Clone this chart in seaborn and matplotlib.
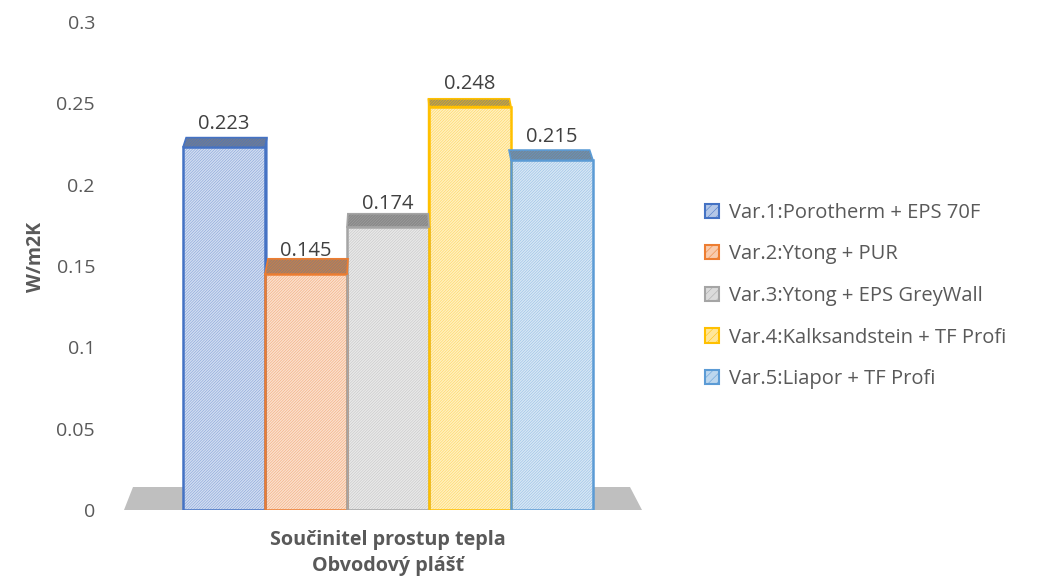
import matplotlib
matplotlib.use("Agg")
import matplotlib.pyplot as plt
import matplotlib.colors as mcolors
from matplotlib.patches import Patch
import seaborn as sns
import numpy as np

# data
variants = ["Var.1:Porotherm + EPS 70F", "Var.2:Ytong + PUR", "Var.3:Ytong + EPS GreyWall",
            "Var.4:Kalksandstein + TF Profi", "Var.5:Liapor + TF Profi"]
values = [0.223, 0.145, 0.174, 0.248, 0.215]
colors = ["#4472C4", "#ED7D31", "#A5A5A5", "#FFC000", "#5B9BD5"]
yticks = [0, 0.05, 0.1, 0.15, 0.2, 0.25, 0.3]
ytick_labels = ["0", "0.05", "0.1", "0.15", "0.2", "0.25", "0.3"]
xlabel = "Součinitel prostup tepla\nObvodový plášť"
ylabel = "W/m2K"

sns.set_style("white")
plt.rcParams["font.family"] = ["Open Sans", "DejaVu Sans"]
plt.rcParams["hatch.linewidth"] = 0.35
txt = "#595959"


def tint(c, f):
    r = np.array(mcolors.to_rgb(c))
    return tuple(r * (1 - f) + f)


def topcol(c):
    r = np.array(mcolors.to_rgb(c))
    return tuple(r * 0.25 + 0.5 * 0.75)


fig = plt.figure(figsize=(10.39, 5.78), dpi=100)
# pixel layout of the reference plot area
ax = fig.add_axes([120 / 1039, 68 / 578, 525 / 1039, 488 / 578])

pxu = 82.0                      # pixels per bar
x0 = -0.5 - (183 - 120) / pxu
yu = 0.3 / 488                  # data per pixel vertically

sns.barplot(x=variants, y=values, hue=variants, palette=colors, width=1.0,
            legend=False, ax=ax, zorder=3, saturation=1)
ax.set_xlim(x0, x0 + 525 / pxu)
ax.set_ylim(0, 0.3)

k = -0.016
for p, c in zip(ax.patches, colors):
    xl, w, h = p.get_x(), p.get_width(), p.get_height()
    xr = xl + w
    p.set_facecolor(tint(c, 0.76))
    p.set_edgecolor(tint(c, 0.3))
    p.set_hatch("/" * 12)
    p.set_linewidth(0)
    # outline of the front face
    ax.fill([xl, xr, xr, xl], [0, 0, h, h], facecolor="none", edgecolor=c, lw=1.8, zorder=3.5)
    # perspective: lower bars show a deeper top face
    dy = (3 + 0.045 * (510 - h / yu)) * yu
    sl, sr = k * (xl - 2) * dy / (10 * yu), k * (xr - 2) * dy / (10 * yu)
    ax.fill([xl, xr, xr + sr, xl + sl], [h, h, h + dy, h + dy],
            facecolor=topcol(c), edgecolor=c, lw=1.2, hatch="/" * 12, zorder=4)
    if xr < 2.01 and sr > 0:
        ax.fill([xr, xr + sr, xr + sr, xr], [0, dy, h + dy, h],
                facecolor=topcol(c), edgecolor=c, lw=1.0, zorder=2)
    if xl > 1.99 and sl < 0:
        ax.fill([xl, xl + sl, xl + sl, xl], [0, dy, h + dy, h],
                facecolor=topcol(c), edgecolor=c, lw=1.0, zorder=2)
    ax.annotate(f"{h:.3f}", (xl + w / 2, h), xytext=(0, 16.5), textcoords="offset points",
                ha="center", va="center", fontsize=14.5, color="#404040", zorder=6)

# grey floor
fx = [(v - 183) / pxu - 0.5 for v in (124, 642, 630, 133)]
fy = [0, 0, 23 * yu, 23 * yu]
ax.fill(fx, fy, color="#BFBFBF", zorder=1, clip_on=False, lw=0)

ax.set_yticks(yticks)
ax.set_yticklabels(ytick_labels)
ax.set_xticks([])
ax.tick_params(axis="y", length=0, pad=18, labelsize=14, labelcolor=txt)
for s in ax.spines.values():
    s.set_visible(False)

ax.set_xlabel(xlabel, fontsize=14.2, fontweight="bold", color=txt, linespacing=1.45)
ax.xaxis.set_label_coords((388 - 120) / 525, -0.04)
ax.xaxis.label.set_va("top")
ax.set_ylabel(ylabel, fontsize=14, fontweight="bold", color=txt)
ax.yaxis.set_label_coords(-(120 - 46) / 525, (510 - 257) / 488)

handles = [Patch(facecolor=tint(c, 0.6), edgecolor=c, hatch="/" * 4, lw=1.5) for c in colors]
fig.legend(handles, variants, loc="center left", bbox_to_anchor=(697 / 1039, 1 - 296 / 578),
           frameon=False, fontsize=14.5, labelcolor=txt, handlelength=0.7, handleheight=0.7,
           handletextpad=0.5, labelspacing=1.07, borderaxespad=0)

fig.savefig("out.png", dpi=100)
